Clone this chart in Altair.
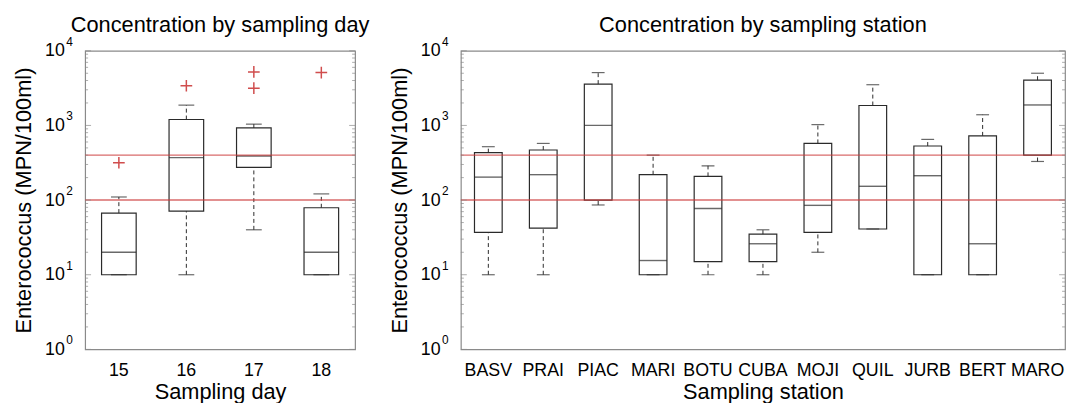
import altair as alt
import pandas as pd

# ---------------- data ----------------
days = ["15", "16", "17", "18"]
day_lower = [10, 10, 40, 10]
day_q1 = [10, 71, 274, 10]
day_median = [20, 370, 390, 20]
day_q3 = [67, 1200, 925, 79]
day_upper = [110, 1870, 1040, 121]
day_out_cat = ["15", "16", "17", "17", "18"]
day_out_val = [316, 3400, 5200, 3150, 5100]

stations = ["BASV", "PRAI", "PIAC", "MARI", "BOTU", "CUBA",
            "MOJI", "QUIL", "JURB", "BERT", "MARO"]
st_lower = [10, 10, 86, 10, 10, 10, 20, 41, 10, 10, 329]
st_q1 = [37, 42, 100, 10, 15, 15, 37, 41, 10, 10, 400]
st_median = [203, 219, 1000, 15.5, 77, 26, 85, 153, 212, 26, 1880]
st_q3 = [432, 469, 3580, 219, 208, 35, 575, 1850, 530, 725, 4040]
st_upper = [519, 574, 5100, 400, 288, 40, 1025, 3510, 650, 1390, 5000]

thresholds = [100, 400]
major_ticks = [1, 10, 100, 1000, 10000]
exponents = ["0", "1", "2", "3", "4"]
minor_mult = [2, 3, 4, 5, 6, 7, 8, 9]
minor_ticks = [m * 10 ** k for k in range(4) for m in minor_mult]

FONT = "Liberation Sans"
BOX = "#2a2a2a"
RED = "#cc3a3a"
FRAME = "#8a8a8a"


def panel(cats, lower, q1, med, q3, upper, out_cat, out_val,
          title, xtitle, width, boxw, capw):
    df = pd.DataFrame(dict(cat=cats, lower=lower, q1=q1, median=med,
                           q3=q3, upper=upper))
    out = pd.DataFrame(dict(cat=out_cat, value=out_val))
    ys = alt.Scale(type="log", domain=[1, 10000], nice=False)
    xsc = alt.Scale(paddingInner=0, paddingOuter=0)
    xax = alt.Axis(labelAngle=0, ticks=False, domain=False,
                   labelPadding=12, titlePadding=3)
    yax = alt.Axis(values=major_ticks, labelExpr="'10'", ticks=False,
                   domain=False, grid=False, labelPadding=21,
                   titlePadding=9)
    YT = "Enterococcus (MPN/100ml)"

    def X():
        return alt.X("cat:N", sort=cats, title=xtitle, scale=xsc, axis=xax)

    def Y(f):
        return alt.Y(f, scale=ys, axis=yax, title=YT)

    base = alt.Chart(df)
    box = base.mark_bar(size=boxw, fill="white", stroke=BOX,
                        strokeWidth=1.2).encode(x=X(), y=Y("q1:Q"), y2="q3:Q")
    wl = base.mark_rule(color=BOX, strokeDash=[4, 3], strokeWidth=1).encode(
        x=X(), y=Y("lower:Q"), y2="q1:Q")
    wu = base.mark_rule(color=BOX, strokeDash=[4, 3], strokeWidth=1).encode(
        x=X(), y=Y("q3:Q"), y2="upper:Q")
    cl = base.mark_tick(size=capw, thickness=1.2, color=BOX).encode(
        x=X(), y=Y("lower:Q"))
    cu = base.mark_tick(size=capw, thickness=1.2, color=BOX).encode(
        x=X(), y=Y("upper:Q"))
    md = base.mark_tick(size=boxw, thickness=1.4, color=BOX).encode(
        x=X(), y=Y("median:Q"))
    outl = alt.Chart(out).mark_point(
        shape="M-1,0L1,0M0,-1L0,1", size=140, filled=False,
        stroke=RED, strokeWidth=1.5, opacity=0.9).encode(
        x=X(), y=Y("value:Q"))
    thr = alt.Chart(pd.DataFrame({"t": thresholds})).mark_rule(
        color=RED, strokeWidth=1.5, opacity=0.75).encode(y=Y("t:Q"))
    mt = pd.DataFrame({"v": minor_ticks})
    jt = pd.DataFrame({"v": major_ticks, "e": exponents})
    minl = alt.Chart(mt).mark_tick(size=3, thickness=1, color=FRAME).encode(
        y=Y("v:Q"), x=alt.value(1.5))
    minr = alt.Chart(mt).mark_tick(size=3, thickness=1, color=FRAME).encode(
        y=Y("v:Q"), x=alt.value(width - 1.5))
    majl = alt.Chart(jt).mark_tick(size=6, thickness=1, color=FRAME).encode(
        y=Y("v:Q"), x=alt.value(3))
    majr = alt.Chart(jt).mark_tick(size=6, thickness=1, color=FRAME).encode(
        y=Y("v:Q"), x=alt.value(width - 3))
    expo = alt.Chart(jt).mark_text(
        font=FONT, fontSize=12, align="left", baseline="middle",
        dy=-9, color="black").encode(
        y=Y("v:Q"), x=alt.value(-19), text="e:N")
    return alt.layer(box, wl, wu, cl, cu, md, outl, thr,
                     minl, minr, majl, majr, expo).properties(
        width=width, height=302, title=title)


left = panel(days, day_lower, day_q1, day_median, day_q3, day_upper,
             day_out_cat, day_out_val, "Concentration by sampling day",
             "Sampling day", 273, 35, 16)
right = panel(stations, st_lower, st_q1, st_median, st_q3, st_upper,
              [], [], "Concentration by sampling station",
              "Sampling station", 611, 28, 13)

chart = alt.hconcat(left, right, spacing=107, bounds="flush").properties(
    padding={"left": 4, "top": 3, "right": 0, "bottom": 0}
).configure_view(stroke=FRAME, strokeWidth=1.2).configure_axis(
    labelFont=FONT, titleFont=FONT, labelFontSize=18, titleFontSize=22,
    titleFontWeight="normal", labelColor="black", titleColor="black"
).configure_title(
    font=FONT, fontSize=22, fontWeight="normal", color="black", offset=-1
)

chart.save("out.html", embed_options={"renderer": "svg", "actions": False})
